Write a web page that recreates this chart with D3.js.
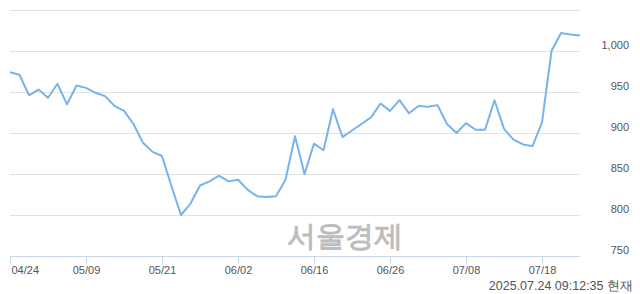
<!DOCTYPE html>
<html>
<head>
<meta charset="utf-8">
<script src="https://cdn.jsdelivr.net/npm/d3@7"></script>
<style>
    html, body { margin: 0; padding: 0; background: #fff; }
    svg { display: block; }
    text { font-family: "Liberation Sans", Arial, sans-serif; }
</style>
</head>
<body>
<div id="chart"></div>
<script>
// trading days shown on the chart
var dates = [
    "04/24", "04/25", "04/28", "04/29", "04/30",
    "05/02", "05/07", "05/08", "05/09", "05/12", "05/13", "05/14", "05/15", "05/16",
    "05/19", "05/20", "05/21", "05/22", "05/23", "05/26", "05/27", "05/28", "05/29", "05/30",
    "06/02", "06/04", "06/05", "06/09", "06/10", "06/11", "06/12", "06/13", "06/16",
    "06/17", "06/18", "06/19", "06/20", "06/23", "06/24", "06/25", "06/26", "06/27", "06/30",
    "07/01", "07/02", "07/03", "07/04", "07/07", "07/08", "07/09", "07/10", "07/11",
    "07/14", "07/15", "07/16", "07/17", "07/18", "07/21", "07/22", "07/23", "07/24"
];

// price
var prices = [
    974, 971, 946, 953, 943, 960, 935, 958, 955, 949, 945, 933, 927, 911, 888,
    877, 872, 835, 800, 814, 836, 841, 848, 841, 843, 831, 823, 822, 823, 843,
    896, 850, 887, 879, 929, 895, 903, 911, 919, 936, 927, 940, 924, 933, 932,
    934, 911, 900, 912, 904, 904, 940, 905, 892, 886, 884, 913, 1000, 1022, 1020, 1019
];

var xTickLabels = ["04/24", "05/09", "05/21", "06/02", "06/16", "06/26", "07/08", "07/18"];
var yTicks = [750, 800, 850, 900, 950, 1000, 1050];
var yLabels = [750, 800, 850, 900, 950, 1000];

(function () {
    var width = 640, height = 294;
    var plotLeft = 10, plotRight = 580, plotTop = 10, plotBottom = 256;

    var svg = d3.select("#chart").append("svg")
        .attr("width", width)
        .attr("height", height);

    var x = d3.scalePoint()
        .domain(dates)
        .range([plotLeft, plotRight]);

    var y = d3.scaleLinear()
        .domain([750, 1050])
        .range([plotBottom, plotTop]);

    // grid lines
    svg.append("g")
        .attr("class", "grid")
        .selectAll("line")
        .data(yTicks.slice(1))
        .enter().append("line")
            .attr("x1", plotLeft)
            .attr("x2", plotRight)
            .attr("y1", function(d) { return Math.round(y(d)) + 0.5; })
            .attr("y2", function(d) { return Math.round(y(d)) + 0.5; })
            .attr("stroke", "#e2e2e2")
            .attr("stroke-width", 1);

    // y labels on the right
    var fmt = d3.format(",");
    svg.append("g")
        .attr("class", "ylabels")
        .selectAll("text")
        .data(yLabels)
        .enter().append("text")
            .attr("x", 629)
            .attr("y", function(d) { return y(d) - 2; })
            .attr("text-anchor", "end")
            .attr("font-size", "11px")
            .attr("fill", "#555")
            .text(function(d) { return fmt(d); });

    // watermark
    svg.append("text")
        .attr("x", 345)
        .attr("y", 246)
        .attr("text-anchor", "middle")
        .attr("font-family", "'Noto Sans CJK KR', sans-serif")
        .attr("font-weight", "bold")
        .attr("font-size", "29px")
        .attr("fill", "#bdbdbd")
        .text("서울경제");

    // x axis
    var xAxis = d3.axisBottom(x)
        .tickValues(xTickLabels)
        .tickSize(8)
        .tickSizeOuter(0);

    var gx = svg.append("g")
        .attr("transform", "translate(0," + (plotBottom + 0.5) + ")")
        .call(xAxis);

    gx.select(".domain")
        .attr("stroke", "#c9d6ea")
        .attr("d", "M" + plotLeft + ",0H" + plotRight);
    gx.selectAll(".tick line").attr("stroke", "#c9d6ea");
    gx.selectAll(".tick text")
        .attr("font-family", "'Liberation Sans', Arial, sans-serif")
        .attr("font-size", "11px")
        .attr("fill", "#555")
        .attr("dy", "1.1em")
        .attr("y", 5);
    gx.selectAll(".tick text")
        .filter(function(d, i) { return i === 0; })
        .attr("text-anchor", "start")
        .attr("dx", 1);

    // price line
    var line = d3.line()
        .x(function(d, i) { return x(dates[i]); })
        .y(function(d) { return y(d); });

    svg.append("path")
        .datum(prices)
        .attr("fill", "none")
        .attr("stroke", "#78b3eb")
        .attr("stroke-width", 2)
        .attr("stroke-linejoin", "round")
        .attr("d", line);

    // timestamp
    svg.append("text")
        .attr("x", 633)
        .attr("y", 290)
        .attr("text-anchor", "end")
        .attr("font-size", "12.5px")
        .attr("fill", "#555")
        .text("2025.07.24 09:12:35 현재");
}());
</script>
</body>
</html>
